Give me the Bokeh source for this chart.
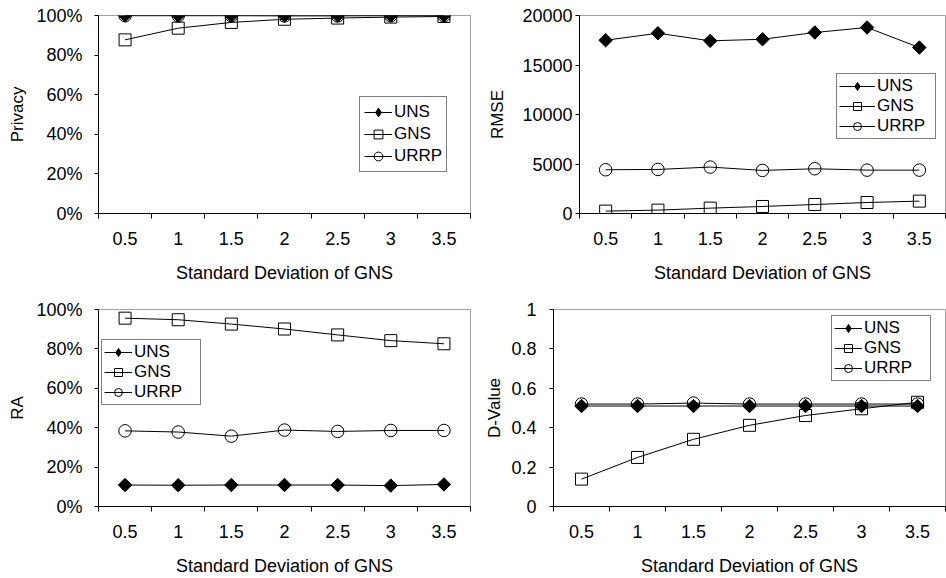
from bokeh.plotting import figure
from bokeh.models import Range1d, FixedTicker, Legend, LegendItem
from bokeh.layouts import column, row
from bokeh.embed import file_html
from bokeh.resources import INLINE
import numpy as np

# ---------------- data ----------------
x_vals = [0.5, 1, 1.5, 2, 2.5, 3, 3.5]
x_labels = ["0.5", "1", "1.5", "2", "2.5", "3", "3.5"]
x_title = "Standard Deviation of GNS"
series_names = ["UNS", "GNS", "URRP"]

privacy_uns = [1.000, 1.000, 1.000, 1.000, 1.000, 1.000, 1.000]
privacy_gns = [0.877, 0.936, 0.965, 0.981, 0.987, 0.992, 0.995]
privacy_urrp = [0.999, 0.999, 0.999, 0.998, 0.998, 0.999, 0.999]

rmse_uns = [17500, 18210, 17440, 17600, 18280, 18790, 16760]
rmse_gns = [240, 340, 540, 710, 910, 1110, 1250]
rmse_urrp = [4420, 4450, 4690, 4350, 4520, 4380, 4380]

ra_uns = [0.109, 0.108, 0.109, 0.109, 0.109, 0.106, 0.112]
ra_gns = [0.956, 0.948, 0.926, 0.901, 0.871, 0.842, 0.826]
ra_urrp = [0.384, 0.378, 0.357, 0.388, 0.381, 0.386, 0.386]

dv_uns = [0.510, 0.510, 0.510, 0.510, 0.510, 0.510, 0.510]
dv_gns = [0.139, 0.249, 0.341, 0.412, 0.462, 0.496, 0.529]
dv_urrp = [0.520, 0.520, 0.525, 0.520, 0.520, 0.520, 0.520]

pct_ticks = [0, 0.2, 0.4, 0.6, 0.8, 1.0]
pct_labels = ["0%", "20%", "40%", "60%", "80%", "100%"]
rmse_ticks = [0, 5000, 10000, 15000, 20000]
rmse_labels = ["0", "5000", "10000", "15000", "20000"]
dv_ticks = [0, 0.2, 0.4, 0.6, 0.8, 1.0]
dv_labels = ["0", "0.2", "0.4", "0.6", "0.8", "1"]

FONT = "Liberation Sans"
FS_TICK = "18px"
FS_XTITLE = "18px"
FS_YTITLE = "17px"
FS_LEG = "17px"


def make_panel(ylabel, y_end, y_ticks, y_labels, uns, gns, urrp,
               borders, ylab_standoff, ytitle_standoff, legend_loc, leg):
    left, right, top, bottom = borders
    half = (x_vals[1] - x_vals[0]) / 2
    p = figure(width=473, height=289, output_backend="svg", toolbar_location=None,
               x_range=Range1d(x_vals[0] - half, x_vals[-1] + half),
               y_range=Range1d(0, y_end),
               min_border_left=left, min_border_right=right,
               min_border_top=top, min_border_bottom=bottom)
    p.frame_align = False
    p.grid.visible = False
    p.outline_line_color = "#a0a0a0"
    p.background_fill_color = "white"
    p.border_fill_color = "white"

    bounds = [x_vals[0] - half] + [v + half for v in x_vals]
    p.xaxis.ticker = FixedTicker(ticks=x_vals, minor_ticks=bounds)
    p.xaxis.major_label_overrides = {v: s for v, s in zip(x_vals, x_labels)}
    p.xaxis.major_tick_out = 0
    p.xaxis.major_tick_in = 0
    p.xaxis.minor_tick_out = 5
    p.xaxis.minor_tick_in = 0
    p.xaxis.minor_tick_line_color = "black"
    p.xaxis.major_label_standoff = 13
    p.xaxis.axis_label = x_title
    p.xaxis.axis_label_standoff = 15
    p.xaxis.axis_label_text_font_size = FS_XTITLE

    p.yaxis.ticker = FixedTicker(ticks=y_ticks)
    p.yaxis.major_label_overrides = {v: s for v, s in zip(y_ticks, y_labels)}
    p.yaxis.major_tick_out = 4
    p.yaxis.major_tick_in = 0
    p.yaxis.minor_tick_out = 0
    p.yaxis.minor_tick_in = 0
    p.yaxis.major_label_standoff = ylab_standoff
    p.yaxis.axis_label = ylabel
    p.yaxis.axis_label_standoff = ytitle_standoff
    p.yaxis.axis_label_text_font_size = FS_YTITLE

    for ax in (p.xaxis, p.yaxis):
        ax.axis_line_color = "black"
        ax.major_tick_line_color = "black"
        ax.major_label_text_font = FONT
        ax.major_label_text_font_size = FS_TICK
        ax.major_label_text_color = "black"
        ax.axis_label_text_font = FONT
        ax.axis_label_text_font_style = "normal"
        ax.axis_label_text_color = "black"

    l_urrp = p.line(x_vals, urrp, line_color="black", line_width=1)
    l_gns = p.line(x_vals, gns, line_color="black", line_width=1)
    l_uns = p.line(x_vals, uns, line_color="black", line_width=1)
    m_urrp = p.scatter(x_vals, urrp, marker="circle", size=12.5, line_color="black",
                       fill_color=None, line_width=1)
    m_gns = p.scatter(x_vals, gns, marker="square", size=12, line_color="black",
                      fill_color=None, line_width=1)
    p.scatter(x_vals, uns, marker="square", angle=np.pi / 4, size=9.5,
              line_color="black", fill_color="black", line_width=1)
    # legend-only glyph (legend markers are drawn without rotation); NaN -> not drawn in plot
    m_uns_leg = p.scatter(x=[x_vals[0]], y=[float("nan")], marker="diamond", size=12,
                          line_color="black", fill_color="black", line_width=1)

    items = [LegendItem(label=series_names[0], renderers=[l_uns, m_uns_leg]),
             LegendItem(label=series_names[1], renderers=[l_gns, m_gns]),
             LegendItem(label=series_names[2], renderers=[l_urrp, m_urrp])]
    legend = Legend(items=items, location=legend_loc, margin=0,
                    padding=leg["padding"], spacing=0,
                    glyph_width=leg["gw"], glyph_height=leg["h"], label_height=leg["h"],
                    label_width=leg["lw"], label_standoff=2,
                    label_text_font=FONT, label_text_font_size=FS_LEG,
                    label_text_color="black",
                    border_line_color="black", border_line_width=1,
                    background_fill_color="white", background_fill_alpha=1)
    p.add_layout(legend)
    return p


p1 = make_panel("Privacy", 1.0, pct_ticks, pct_labels,
                privacy_uns, privacy_gns, privacy_urrp,
                (98, 3, 15, 76), 12, 6, (261, 41),
                {"padding": 4, "h": 22, "gw": 28, "lw": 20})
p2 = make_panel("RMSE", 20000, rmse_ticks, rmse_labels,
                rmse_uns, rmse_gns, rmse_urrp,
                (106, 1, 15, 76), 3, 12, (257, 74),
                {"padding": 2, "h": 20, "gw": 36, "lw": 56})
p3 = make_panel("RA", 1.0, pct_ticks, pct_labels,
                ra_uns, ra_gns, ra_urrp,
                (98, 3, 20, 71), 12, 6, (3, 101),
                {"padding": 2, "h": 20, "gw": 28, "lw": 64})
p4 = make_panel("D-Value", 1.0, dv_ticks, dv_labels,
                dv_uns, dv_gns, dv_urrp,
                (80, 1, 20, 71), 13, 4, (278, 125),
                {"padding": 2, "h": 20, "gw": 28, "lw": 64})

layout = column(row(p1, p2), row(p3, p4))
open("out.html", "w").write(file_html(layout, INLINE))
